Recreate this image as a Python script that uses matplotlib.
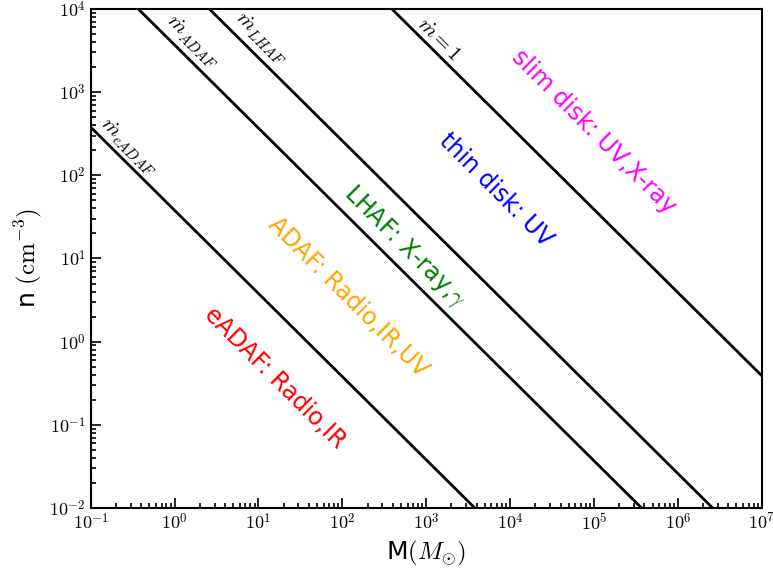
import matplotlib
matplotlib.use("Agg")
import matplotlib.pyplot as plt
from matplotlib.ticker import FuncFormatter
import numpy as np

plt.rcParams['mathtext.fontset'] = 'cm'

# Boundary lines n(M), read at their ends on the axes box
line_names = [r'$\dot{m}_{eADAF}$', r'$\dot{m}_{ADAF}$', r'$\dot{m}_{LHAF}$', r'$\dot{m}=1$']
line_M = [[0.1, 3800], [0.37, 3.7e5], [2.6, 2.6e6], [390, 1e7]]
line_n = [[380, 0.01], [1e4, 0.01], [1e4, 0.01], [1e4, 0.39]]
# where each line label sits
line_lab_M = [0.28, 1.61, 10.7, 1420]
line_lab_n = [219, 4010, 4480, 4350]

# Region labels
region_text = ['eADAF: Radio,IR', 'ADAF: Radio,IR,UV', r'LHAF: X-ray,$\gamma$',
               'thin disk: UV', 'slim disk: UV,X-ray']
region_color = ['red', 'orange', 'green', 'blue', 'magenta']
region_M = [15.7, 117, 557, 6760, 1e5]
region_n = [0.367, 3.45, 13.8, 66.8, 332]

fig = plt.figure(figsize=(7.73, 5.69), dpi=100)
ax = fig.add_axes([0.1173, 0.1072, 0.8681, 0.877])

for M, n in zip(line_M, line_n):
    ax.plot(M, n, color='black', lw=2)

for name, M, n in zip(line_names, line_lab_M, line_lab_n):
    ax.text(M, n, name, rotation=-45, rotation_mode='anchor',
            ha='center', va='center', fontsize=15)

for t, c, M, n in zip(region_text, region_color, region_M, region_n):
    ax.text(M, n, t, color=c, rotation=-45, rotation_mode='anchor',
            ha='center', va='center', fontsize=17)

ax.set_xscale('log')
ax.set_yscale('log')
ax.set_xlim(1e-1, 1e7)
ax.set_ylim(1e-2, 1e4)

# tick labels in computer modern
fmt = FuncFormatter(lambda v, p: r'$10^{%d}$' % int(round(np.log10(v))))
ax.xaxis.set_major_formatter(fmt)
ax.yaxis.set_major_formatter(fmt)

ax.tick_params(which='both', direction='in', labelsize=13, width=1.2)
ax.tick_params(which='major', length=7)
ax.tick_params(which='minor', length=3.5)
for s in ax.spines.values():
    s.set_linewidth(1.5)

ax.set_xlabel(r'M$(M_{\odot})$', fontsize=18)
ax.set_ylabel(r'n $(\mathrm{cm}^{-3})$', fontsize=18)

fig.savefig('out.png', dpi=100)
